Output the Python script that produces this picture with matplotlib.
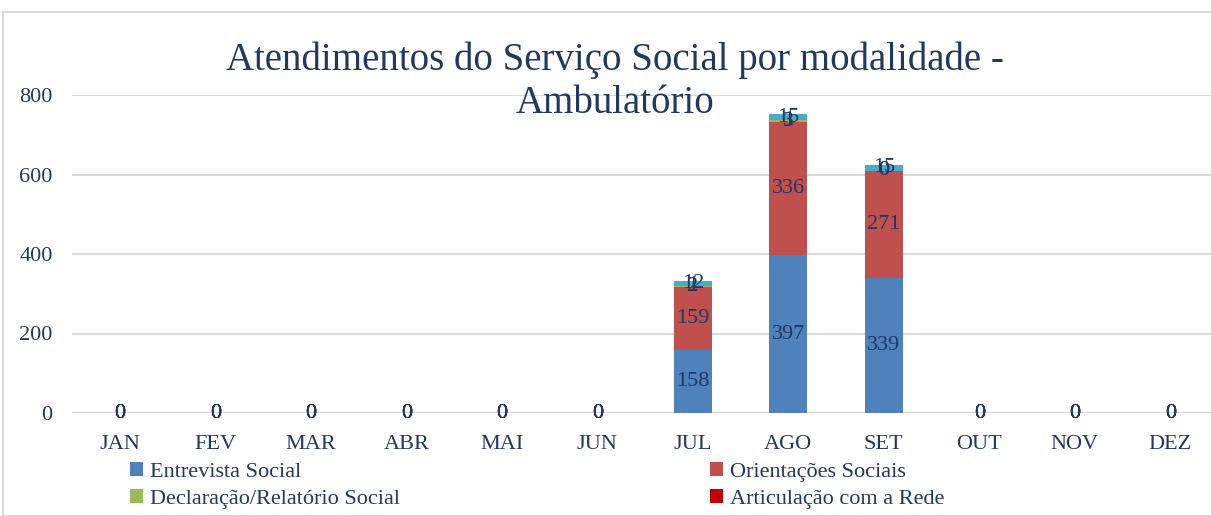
import matplotlib.pyplot as plt
import numpy as np
from matplotlib.patches import Rectangle

MESES = ['JAN', 'FEV', 'MAR', 'ABR', 'MAI', 'JUN',
         'JUL', 'AGO', 'SET', 'OUT', 'NOV', 'DEZ']

entrevista = [0, 0, 0, 0, 0, 0, 158, 397, 339, 0, 0, 0]
orientacoes = [0, 0, 0, 0, 0, 0, 159, 336, 271, 0, 0, 0]
declaracao = [0, 0, 0, 0, 0, 0, 2, 3, 0, 0, 0, 0]
articulacao = [0, 0, 0, 0, 0, 0, 1, 1, 0, 0, 0, 0]
outros = [0, 0, 0, 0, 0, 0, 12, 15, 15, 0, 0, 0]

SERIES = [
    ('Entrevista Social', entrevista, '#4F81BD'),
    ('Orientações Sociais', orientacoes, '#C0504D'),
    ('Declaração/Relatório Social', declaracao, '#9BBB59'),
    ('Articulação com a Rede', articulacao, '#C00000'),
    ('Outros', outros, '#4BACC6'),
]

NAVY = '#1F3864'
plt.rcParams['font.family'] = ['Liberation Serif', 'DejaVu Serif']

fig = plt.figure(figsize=(12.11, 5.16), dpi=100)
ax = fig.add_axes([72 / 1211, 103 / 516, 1146 / 1211, 318 / 516])

x = np.arange(len(MESES))
bottom = np.zeros(len(MESES))
handles = []
for nome, vals, cor in SERIES:
    vals = np.array(vals, dtype=float)
    bars = ax.bar(x, vals, 0.4, bottom=bottom, color=cor, zorder=2, label=nome)
    ax.bar_label(bars, labels=[f'{int(v)}' for v in vals], label_type='center',
                 color=NAVY, fontsize=16, zorder=3)
    bottom += vals
    handles.append(bars)

ax.set_xlim(-0.5, len(MESES) - 0.5)
ax.set_ylim(0, 800)
ax.set_yticks([0, 200, 400, 600, 800])
ax.set_xticks(x)
ax.set_xticklabels(MESES)
ax.tick_params(axis='both', length=0, labelsize=16, colors=NAVY)
ax.tick_params(axis='x', pad=16)
ax.tick_params(axis='y', pad=14)
ax.grid(axis='y', color='#D9D9D9', linewidth=1.5, zorder=0)
for s in ax.spines.values():
    s.set_visible(False)

fig.text(0.508, 0.883, 'Atendimentos do Serviço Social por modalidade -',
         ha='center', va='center', fontsize=28, color=NAVY)
fig.text(0.508, 0.8, 'Ambulatório', ha='center', va='center',
         fontsize=28, color=NAVY)

# legend filled row by row: two columns, two rows
ordem = [0, 2, 1, 3]
fig.legend(handles=[handles[i] for i in ordem],
           labels=[SERIES[i][0] for i in ordem],
           loc='upper left', bbox_to_anchor=(110 / 1211, 1 - 442 / 516),
           ncol=2, frameon=False, fontsize=16, labelcolor=NAVY,
           handlelength=0.6, handleheight=0.6, handletextpad=0.3,
           columnspacing=13.95, labelspacing=0.32)

# chart frame
fig.patches.append(Rectangle((3 / 1211, 0), 1.2, 1 - 12 / 516,
                             transform=fig.transFigure, fill=False,
                             edgecolor='#D9D9D9', linewidth=1.5))

fig.savefig('out.png', dpi=100)
